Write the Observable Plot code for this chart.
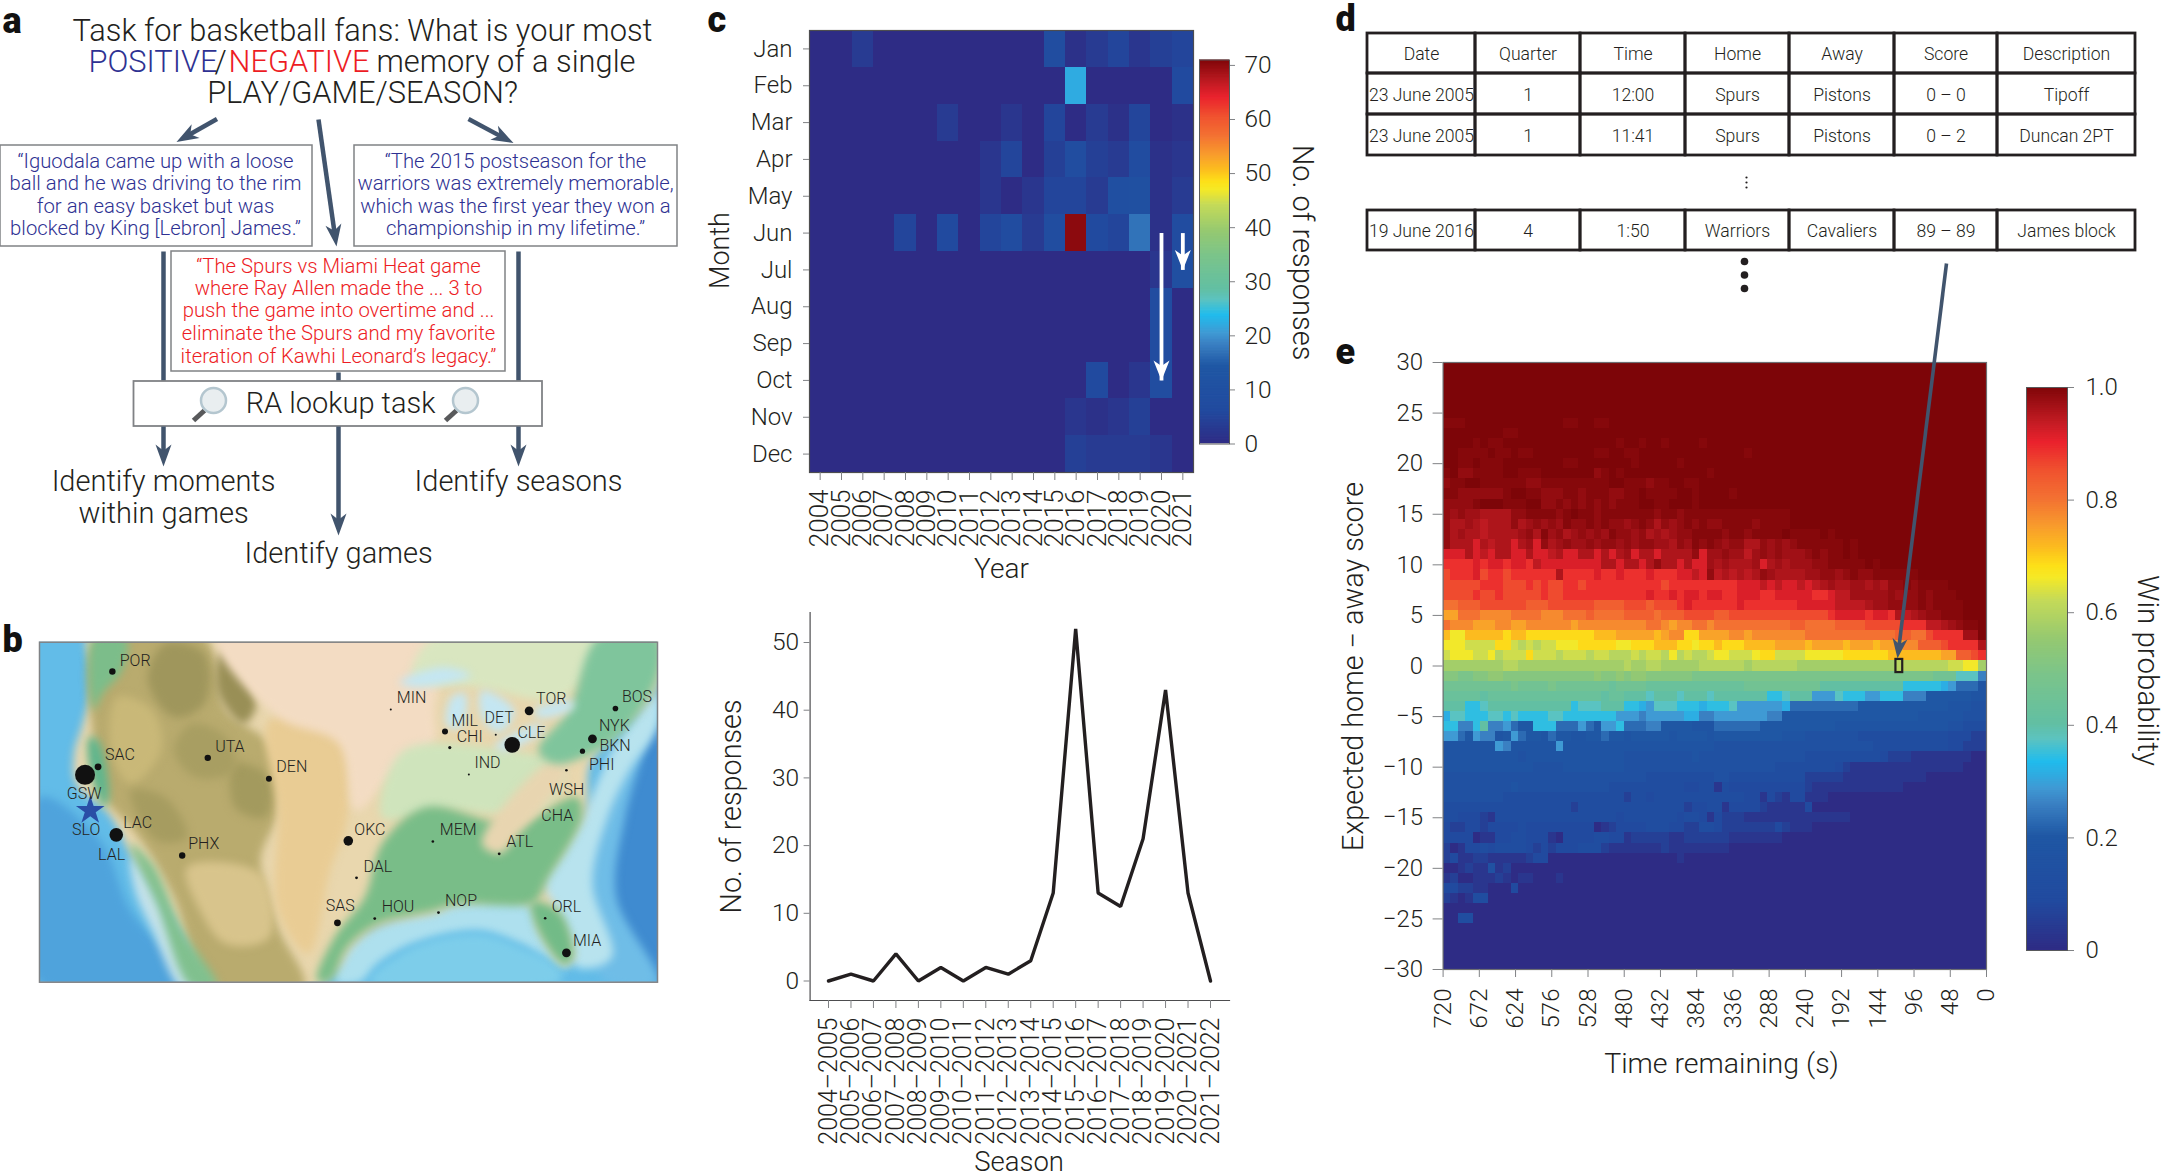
<!DOCTYPE html>
<html><head><meta charset="utf-8">
<script src="https://cdn.jsdelivr.net/npm/d3@7"></script>
<script src="https://cdn.jsdelivr.net/npm/@observablehq/plot@0.6"></script>
<style>
html,body{margin:0;padding:0;background:#fff}
#page{position:relative;width:2166px;height:1176px;overflow:hidden;background:#fff}
#page svg{position:absolute;max-width:none}
</style></head><body><div id="page"></div>
<script>
// ---------- colour ramp ----------
const rampStops  = [0,.085,.2,.26,.286,.333,.373,.4,.487,.553,.62,.66,.68,.713,.753,.8,.85,.9,.934,1];
const rampColors = ["#2e2c85","#214a9f","#1f57a4","#3b82c4","#3f9ad4","#20bced","#5cc3c0","#62bfa3","#7bc48a","#96c970","#c5da58","#f5e926","#fde018","#fcbc1f","#f89a2d","#f37132","#f0522f","#ea222d","#c51c24","#7d0508"];

// ---------- panel c, responses per month and year ----------
const months = ["Jan","Feb","Mar","Apr","May","Jun","Jul","Aug","Sep","Oct","Nov","Dec"];
const years  = [2004,2005,2006,2007,2008,2009,2010,2011,2012,2013,2014,2015,2016,2017,2018,2019,2020,2021];
const jan = [0,0,3,0,0,0,0,0,0,0,0,8,1,3,5,2,4,5];
const feb = [0,0,0,0,0,0,0,0,0,0,0,0,22,0,0,0,0,6];
const mar = [0,0,0,0,0,0,3,0,0,2,0,5,0,3,1,5,0,1];
const apr = [0,0,0,0,0,0,0,0,2,5,0,4,8,4,3,7,1,2];
const may = [0,0,0,0,0,0,0,0,2,0,2,5,5,3,9,10,1,3];
const jun = [0,0,0,0,5,0,6,0,5,7,3,8,70,6,5,17,1,7];
const jul = [0,0,0,0,0,0,0,0,0,0,0,0,0,0,0,0,2,9];
const aug = [0,0,0,0,0,0,0,0,0,0,0,0,0,0,0,0,7,0];
const sep = [0,0,0,0,0,0,0,0,0,0,0,0,0,0,0,0,7,0];
const oct = [0,0,0,0,0,0,0,0,0,0,0,0,0,6,0,2,8,0];
const nov = [0,0,0,0,0,0,0,0,0,0,0,0,2,1,2,4,0,0];
const dec = [0,0,0,0,0,0,0,0,0,0,0,0,4,3,3,3,2,0];
const monthCounts = [jan,feb,mar,apr,may,jun,jul,aug,sep,oct,nov,dec];
const barTicksC = [0,10,20,30,40,50,60,70];

// ---------- panel c, responses per season ----------
const seasons = ["2004–2005","2005–2006","2006–2007","2007–2008","2008–2009","2009–2010","2010–2011","2011–2012","2012–2013","2013–2014","2014–2015","2015–2016","2016–2017","2017–2018","2018–2019","2019–2020","2020–2021","2021–2022"];
const seasonCounts = [0,1,0,4,0,2,0,2,1,3,13,52,13,11,21,43,13,0];

// ---------- panel d ----------
const tableHeader = ["Date","Quarter","Time","Home","Away","Score","Description"];
const tableRow1 = ["23 June 2005","1","12:00","Spurs","Pistons","0 – 0","Tipoff"];
const tableRow2 = ["23 June 2005","1","11:41","Spurs","Pistons","0 – 2","Duncan 2PT"];
const tableRow3 = ["19 June 2016","4","1:50","Warriors","Cavaliers","89 – 89","James block"];

// ---------- panel e: win probability, one string per score difference from +30 to -30,
// one character per 10 s from 720 s to 0 s, read by eye from the colours ----------
const levelChars = "0123456789abcdefghijklmnopqrstuvwxyz";
const extraLevels = {A:.992,y:.98,B:.968,x:.955,C:.94};
const winRows = [
"z","z","z","z","z",
"z",
"AAAzzzzzzzzz zzzzAAzzAAzz z",
"zzzzzzzzAAzz z",
"zzzzAzAAzzzz zzzzzzzzzzzA zzAzzAzzzzAz z",
"zzAAAAzAAzAA zzzzzzzzAAzz AAzzzzzzzzzz zzzzAzzzzzzz z",
"zzAAzAAAzzzz zzzzAAzzzzzz zAzzzzzAzzzz z",
"AzyyAAAAzzAA AzzzzzzzyAzA zzzzzzzzzzzA z",
"yAAzzAAAAAAy yAAAAAAAAAzz AAAyAAzzAAzz z",
"AAyyyyyyAzzA AyyyAAyAAAyy AAzAAAAzzAzz zzAzzzzzzzzz z",
"yyyyAzzzAAAz zyyAyAyAyAyA AAzzAAzzzAzz z",
"yByBBxxxxyyA AAAyAzAAyAAA AAAAyAAyAAAA AAAAAAAAAAzz z",
"yxxBxCxxxyxB yByBAyyAyAyy ByAyxyByAyAy yAAAAyAAAAzz z",
"yxBxxCxxxxBy xAByxByByBAy yByxBxByyAAA AyAAyAAAAzAA AAzAzzzzzzzz z",
"yxxxwxCxxwxB wyxByBByByyB yByyBBxyBAyA yByyxxyByByA AAAAAzAzzzzz z",
"wwwxwCwxxwwx wwCxwwxxwxwx BwxxwxxxxywB ByBBCByByBBB yAyAAzAzzzzz z",
"vvvvwvwwvwwv Cwwwwwwwwxxw xxwxyxxwxwwB xBxxxBwxBxBB ByyAAAAAzAzz z",
"uvvvwuvvuvvv vvvxvvvvwvvw vvvwvvvwwCwy CxCxCxyBxxxx BByyByAyyAAA AAAzzzzzzzzz",
"uuuuuvvvuuuv uvuuvvuvvvvv vvvvvuvvvvvv vvvwwwCwCwwC wCxBxxBBxBxy yAyAAAAzzzzz",
"uuuuvuuvuuuu uvuuvvvvvvvv vvvwvvwvwwvw wvvwwwvvwwww wvvwCCBBBBBy ByyAyAAAzzzz",
"sstttuuuuuut ttuuuuuutttt uuutuuuvwvvv vvvwvvvvvvvw wwwwCCCCxBBy yyyAyAAAAzzz",
"qqsssrrrrsss srrrssstssss ttttstttuuuu ttuuuuuuuuuu uuuvwwwwvwwv xCxByyAAAzzz",
"srrrqqqrrqqr rrrrrqrrrrrr rrrssrqrrssr sssssssssstt ssssttttuuuu uvvvCCxByAAz",
"pnnpppppoppo oooooooopppq qqqqpqrrooqq qqrrqrrrrrrr ssssssssssss ttssuvvvvBBz",
"nnnmmmmoomlm lmmnnnooooon nooopppoonoo poooppppqqqq pqqqqpqqqpqq qrrtttuvvvvx",
"mnnnmmnlmmmo mmmlmmmlmmll lmlmmlnlmllm nnmmmnoommmm nnnnnoooooop ppppppqqttuv",
"kkkkkkkkllkk kkkkkkkkkkkk lkkllkkkkkll llllkllllllk kkkkkkkkkkkk lllllllmmnnk",
"iihhiijjiiii iiiiiiiijiij ijjiiiiiihhh hhhhhhhhhhhh hhhhhhhhhhhh hhhhhgggddd9",
"ggggggggghgg gghgggggggfg gggfffffffff ffffgggggggg ggeeeeeeeeee ecccccba8886",
"fffffeffffff fffffffffeff eeedeeedeeed eeeeeeeccdee eaaadcccaacc c99977777766",
"eeeccdeeeeee eeeeecdddeee ccbadddcccbc ccdaaaaaab88 888888877777 777777766655",
"bddcccddcdcc ccddccccccca aa9aaaaabb99 aaaaaaa99777 777777777777 777666666555",
"cc99ce99a877 ccc888a87aac 888997777666 888888777777 777766666666 666666655444",
"aa87a9967a87 768776677877 677777677776 777777777666 555555544444 444444433322",
"6666666a9666 666a66666666 666666666666 555555555555 555555555444 444444433222",
"666666666656 666666666666 555555555655 555555555555 444444444432 221111111100",
"666666666666 555566666666 555555555555 555555554444 444432111111 111111111000",
"555555555555 555555555555 555444444444 554444444444 222221111111 111100000000",
"555555555655 555555555544 444444443344 143333333333 211111111111 100000000000",
"555555554444 444444444444 244344444444 444433132133 111000000000 0",
"444444444444 444442444444 444444442334 413333211111 300000000000 0",
"443332144444 444444444443 444444434431 322211111111 111111000000 0",
"322332333343 333333330123 333444332244 322222223211 100000000000 0",
"333301133443 331033334433 122222112222 221111111000 0",
"201334344443 232333444211 111112111111 110000000000 0",
"231122111112 330000000000 000000010000 0",
"001211512000 0",
"120011121011 000100000000 0",
"332211000300 0",
"210144000000 0",
"0",
"004400000000 0",
"0","0","0","0","0"
];
const highlightCell = [{t1:120,t2:111,s1:-.65,s2:.65}];
const timeTicks  = [720,672,624,576,528,480,432,384,336,288,240,192,144,96,48,0];
const scoreTicks = [30,25,20,15,10,5,0,-5,-10,-15,-20,-25,-30];
const probTicks  = [0,.2,.4,.6,.8,1];

// ---------- panel b: teams, in units of the map picture ----------
const teamNames = ["POR","SAC","GSW","LAC","UTA","DEN","PHX","MIN","MIL","CHI","DET","TOR","CLE","IND","BOS","NYK","PHI","WSH","ATL","MEM","OKC","DAL","SAS","HOU","NOP","ORL","MIA"];
const teamX = [258,225,195,267,478,619,419,900,1025,1036,1142,1219,1180,1080,1418,1365,1342,1305,1150,997,802,821,777,863,1010,1256,1305];
const teamY = [183,469,493,673,442,505,735,297,363,411,373,301,403,492,294,385,422,479,730,693,691,802,937,924,906,923,1027];
const teamR = [3.2,3.4,10,6.8,3.2,3,3.2,1,3,1.6,1,4.4,7.8,1,2.8,4.4,2.6,1.3,1.4,1.3,4.8,1.4,3.4,1.4,1.4,1.3,4.4];
const labelNames = ["POR","SAC","GSW","SLO","LAC","LAL","UTA","DEN","PHX","MIN","MIL","CHI","DET","TOR","CLE","IND","BOS","NYK","BKN","PHI","WSH","CHA","ATL","MEM","OKC","DAL","SAS","HOU","NOP","ORL","MIA"];
const labelX = [275,241,153,165,283,225,495,636,433,914,1040,1052,1116,1235,1192,1093,1433,1380,1381,1357,1265,1247,1166,1013,816,837,750,879,1025,1271,1320];
const labelY = [150,432,551,658,638,732,408,470,700,263,330,378,321,265,368,458,260,347,406,462,538,616,695,658,657,768,885,890,872,889,992];
const studySite = [{x:207,y:600}];

// terrain shapes of the background map, in the same picture units
const terrain = [
 ["#4fa3dc",[[90,560],[230,690],[300,900],[430,1115],[90,1115]]],
 ["#3f8bd0",[[1515,340],[1410,500],[1375,700],[1400,900],[1515,1115]]],
 ["#6fbde7",[[1515,250],[1400,430],[1350,640],[1300,800],[1400,1115],[1515,1115],[1420,860],[1440,620]]],
 ["#b8e3ee",[[1515,250],[1420,400],[1345,600],[1255,760],[1250,880],[1330,1070],[1410,1040],[1365,820],[1400,620],[1450,480],[1515,350]]],
 ["#aee0ee",[[790,1020],[900,930],[1240,870],[1310,1075],[1200,1000],[1100,960],[950,1000],[870,1060],[830,1115],[770,1115]]],
 ["#7dcdea",[[850,1115],[950,1010],[1100,970],[1200,1010],[1290,1075],[1290,1115]]],
 ["#e9d7ae",[[205,70],[1515,70],[1515,230],[1420,370],[1360,460],[1350,600],[1300,720],[1255,820],[1285,900],[1322,1040],[1300,1064],[1240,960],[1220,885],[1050,885],[1010,905],[870,950],[810,1010],[780,1070],[720,1140],[480,1140],[430,1000],[360,860],[300,730],[250,610],[175,520],[170,430],[190,340],[215,200]]],
 ["#c5e2ea",[[300,740],[350,820],[400,940],[470,1140],[420,1140],[350,960],[310,840]]],
 ["#b9ab6e",[[225,80],[470,80],[520,300],[620,400],[640,600],[600,750],[640,950],[700,1130],[490,1130],[400,860],[340,720],[300,650],[240,560],[215,400]]],
 ["#9f965c",[[380,100],[470,130],[470,280],[400,320],[340,210]]],
 ["#a39a5e",[[540,460],[620,500],[610,620],[540,590]]],
 ["#a89e62",[[440,340],[520,380],[540,480],[450,500],[400,420]]],
 ["#c9b878",[[270,260],[350,300],[370,420],[300,520],[255,420]]],
 ["#a69c60",[[300,540],[380,560],[430,680],[360,690]]],
 ["#998f56",[[510,120],[590,280],[560,340],[500,240]]],
 ["#d8c48c",[[430,770],[600,790],[620,980],[520,1000],[460,900]]],
 ["#e9cc94",[[620,330],[780,340],[800,620],[760,780],[710,1030],[640,900],[640,600]]],
 ["#f3dcc3",[[500,80],[1010,80],[1000,300],[1000,400],[900,500],[820,600],[780,400],[640,320]]],
 ["#d9e6c0",[[1000,80],[1380,80],[1300,260],[1100,230],[950,200]]],
 ["#cfe4bc",[[930,420],[1170,420],[1300,470],[1250,600],[1020,600],[880,620]]],
 ["#79bd88",[[880,700],[980,590],[1180,640],[1330,560],[1340,620],[1260,810],[1230,875],[1050,880],[1000,900],[870,940],[800,1010],[760,1110],[730,1110],[770,980],[840,860]]],
 ["#72bb87",[[1225,875],[1290,905],[1320,1040],[1300,1062],[1240,960]]],
 ["#e8d5b0",[[1110,700],[1220,500],[1290,440],[1310,480],[1190,680],[1150,730]]],
 ["#7fc59c",[[1280,460],[1420,380],[1515,200],[1515,80],[1380,80],[1310,300],[1240,420]]],
 ["#5eb58c",[[205,380],[225,390],[250,560],[240,590],[205,470]]],
 ["#7cbd8a",[[215,80],[290,80],[280,180],[235,250],[215,300]]],
 ["#80c08e",[[300,700],[350,760],[420,960],[500,1130],[440,1130],[360,880]]],
 ["#c4e6f2",[[920,215],[1020,170],[1085,195],[960,230]]],
 ["#c4e6f2",[[1030,345],[1040,260],[1072,250],[1062,350]]],
 ["#c4e6f2",[[1110,240],[1185,300],[1150,365],[1110,320]]],
 ["#c4e6f2",[[1140,408],[1240,342],[1252,356],[1160,422]]],
 ["#c4e6f2",[[1230,300],[1320,272],[1322,292],[1242,322]]]
];

// ---------- panel a and axis texts ----------
const taskTitle = ["Task for basketball fans: What is your most","PLAY/GAME/SEASON?"];
const quoteIguodala = ["“Iguodala came up with a loose","ball and he was driving to the rim","for an easy basket but was","blocked by King [Lebron] James.”"];
const quoteWarriors = ["“The 2015 postseason for the","warriors was extremely memorable,","which was the first year they won a","championship in my lifetime.”"];
const quoteSpurs = ["“The Spurs vs Miami Heat game","where Ray Allen made the ... 3 to","push the game into overtime and ...","eliminate the Spurs and my favorite","iteration of Kawhi Leonard’s legacy.”"];

const INK="#231f20", ARROW="#41546d", BLUE="#2e3192", RED="#ed1c24", GREY="#808285";
const ROBOTO="Roboto, 'Noto Sans', sans-serif";
const page=document.getElementById("page");
function put(svg,left,top){svg.style.left=left+"px";svg.style.top=top+"px";page.appendChild(svg);}
const baseStyle={fontFamily:ROBOTO,fontWeight:300,color:INK,background:"transparent",overflow:"visible"};
const rampScale=m=>({type:"linear",domain:rampStops.map(s=>s*m),range:rampColors,interpolate:"rgb"});
const head={draw(c,l,r){c.moveTo(0,0);c.lineTo(-r,l);c.lineTo(0,l*.72);c.lineTo(r,l);c.closePath();}};

// ---- panel b map ----
put(Plot.plot({
 width:680,height:390,marginLeft:39,marginRight:23,marginTop:31.7,marginBottom:18.3,style:baseStyle,
 x:{domain:[90,1515],axis:null},y:{domain:[95,1115],range:[31.7,371.7],axis:null},r:{type:"identity"},
 marks:[
  Plot.rect([0],{x1:90,x2:1515,y1:95,y2:1115,fill:"#62bce8"}),
  ...terrain.map(([color,pts])=>Plot.line(pts,{x:d=>d[0],y:d=>d[1],fill:color,stroke:"none",curve:"catmull-rom-closed",clip:true,imageFilter:"blur(4.5px)"})),
  Plot.dot(teamNames.map((n,i)=>({x:teamX[i],y:teamY[i],r:teamR[i]})),{x:"x",y:"y",r:"r",fill:"#111",stroke:"none"}),
  Plot.dot(studySite,{x:"x",y:"y",r:9,symbol:"star",fill:"#2a4ea6",stroke:"none"}),
  Plot.text(labelNames.map((n,i)=>({n,x:labelX[i],y:labelY[i]})),{x:"x",y:"y",text:"n",textAnchor:"start",fontSize:16,fill:INK}),
  Plot.frame({stroke:GREY,strokeWidth:1.5})
 ]}),0,610);

// ---- panel c heat map ----
const heatCells=monthCounts.flatMap((r,i)=>r.map((v,j)=>({month:months[i],year:years[j],v})));
put(Plot.plot({
 width:520,height:590,marginLeft:119,marginRight:17,marginTop:30,marginBottom:118,style:baseStyle,
 x:{type:"band",domain:years,padding:0,round:false},y:{type:"band",domain:months,padding:0,round:false},
 color:rampScale(71),
 marks:[
  Plot.cell(heatCells,{x:"year",y:"month",fill:"v",shapeRendering:"crispEdges"}),
  Plot.frame({stroke:"#4d4d4f",strokeWidth:1.2}),
  Plot.axisX({tickRotate:-90,tickFormat:d=>String(d),tickSize:8,tickPadding:9,fontSize:26,label:null,stroke:GREY,fill:INK}),
  Plot.axisY({tickSize:6,tickPadding:11,fontSize:24,label:null,stroke:GREY,fill:INK}),
  Plot.link([{x:2020,y1:"Jun",y2:"Oct"},{x:2021,y1:"Jun",y2:"Jul"}],{x:"x",y1:"y1",y2:"y2",stroke:"#fff",strokeWidth:3.8}),
  Plot.vector([{x:2020,y:"Oct"},{x:2021,y:"Jul"}],{x:"x",y:"y",rotate:180,length:20,r:8,anchor:"start",shape:head,fill:"#fff",stroke:"none"})
 ]}),690,0);

// ---- panel c colour bar ----
const barSteps=d3.range(0,1,.004);
put(Plot.plot({
 width:120,height:410,marginLeft:9,marginRight:81,marginTop:9.5,marginBottom:16.5,style:baseStyle,
 x:{domain:[0,1],axis:null},y:{domain:[0,71]},color:rampScale(71),
 marks:[
  Plot.rect(barSteps,{x1:0,x2:1,y1:d=>d*71,y2:d=>(d+.006)*71,fill:d=>d*71,clip:true}),
  Plot.frame({stroke:"#58595b",strokeWidth:1}),
  Plot.axisY({anchor:"right",ticks:barTicksC,tickSize:5,tickPadding:10,fontSize:24.5,label:null,stroke:GREY,fill:INK})
 ]}),1190,50);

// ---- panel c line ----
put(Plot.plot({
 width:539,height:580,marginLeft:119.6,marginRight:0,marginTop:22,marginBottom:170,style:baseStyle,
 x:{type:"point",domain:seasons,range:[138,520],round:false,padding:0},y:{domain:[0,50],range:[390.5,52]},
 marks:[
  Plot.frame({anchor:"left",stroke:"#4d4d4f",strokeWidth:1.2}),
  Plot.frame({anchor:"bottom",stroke:"#4d4d4f",strokeWidth:1.2}),
  Plot.axisX({tickRotate:-90,tickSize:8,tickPadding:9,fontSize:25,label:null,stroke:GREY,fill:INK}),
  Plot.axisY({ticks:[0,10,20,30,40,50],tickSize:6,tickPadding:5,fontSize:24.5,label:null,stroke:GREY,fill:INK}),
  Plot.line(seasonCounts,{x:(d,i)=>seasons[i],y:d=>d,stroke:INK,strokeWidth:3.4,strokeLinejoin:"miter"})
 ]}),690,590);

// ---- panel e heat map ----
const winCells=[];
winRows.forEach((row,i)=>{
 const s=row.replace(/ /g,""), f=s.padEnd(72,s[s.length-1]);
 for(let c=0;c<72;c++){
  const ch=f[c], v=ch in extraLevels?extraLevels[ch]:levelChars.indexOf(ch)/35;
  winCells.push({t:720-10*c,s:30-i,v});
 }
});
put(Plot.plot({
 width:846,height:760,marginLeft:122.6,marginRight:180,marginTop:22,marginBottom:131,style:baseStyle,
 x:{domain:[720,0]},y:{domain:[-30,30]},color:rampScale(1),
 marks:[
  Plot.rect(winCells,{x1:"t",x2:d=>d.t-10,y1:d=>d.s-.5,y2:d=>d.s+.5,fill:"v",clip:true,shapeRendering:"crispEdges"}),
  Plot.rect(highlightCell,{x1:"t1",x2:"t2",y1:"s1",y2:"s2",fill:"none",stroke:INK,strokeWidth:2.2}),
  Plot.frame({stroke:"#6d6e71",strokeWidth:1.2}),
  Plot.axisX({ticks:timeTicks,tickRotate:-90,tickSize:8,tickPadding:11,fontSize:24,label:null,stroke:GREY,fill:INK}),
  Plot.axisY({ticks:scoreTicks,tickSize:10,tickPadding:10,fontSize:24,label:null,stroke:GREY,fill:INK})
 ]}),1320,340);

// ---- panel e colour bar ----
put(Plot.plot({
 width:110,height:590,marginLeft:6,marginRight:63,marginTop:12,marginBottom:15,style:baseStyle,
 x:{domain:[0,1],axis:null},y:{domain:[0,1]},color:rampScale(1),
 marks:[
  Plot.rect(barSteps,{x1:0,x2:1,y1:d=>d,y2:d=>d+.006,fill:d=>d,clip:true}),
  Plot.frame({stroke:"#58595b",strokeWidth:1}),
  Plot.axisY({anchor:"right",ticks:probTicks,tickFormat:d=>d===0?"0":d.toFixed(1),tickSize:6,tickPadding:12,fontSize:24,label:null,stroke:GREY,fill:INK})
 ]}),2020,375);

// ---- page overlay: panel a diagram, panel d table, axis titles, panel letters ----
const texts=[];
const addLines=(lines,x,ys,size,color)=>lines.forEach((t,i)=>texts.push({t,x,y:ys[i],size,color}));
addLines([taskTitle[0]],362,[31],30.8,INK);
addLines([taskTitle[1]],362,[93],30.8,INK);
addLines(quoteIguodala,155,[161,183,206,228],20.3,BLUE);
addLines(quoteWarriors,515,[161,183,206,228],20.3,BLUE);
addLines(quoteSpurs,338,[265.5,288,310,333,355.5],20.3,RED);
addLines(["RA lookup task"],340,[403],29,INK);
addLines(["Identify moments","within games"],163,[481,513],29,INK);
addLines(["Identify games"],338,[553.5],29,INK);
addLines(["Identify seasons"],518,[481],29,INK);
addLines(["Year"],1001,[569],28,INK);
addLines(["Season"],1018.6,[1162],27.5,INK);
addLines(["Time remaining (s)"],1721,[1063],28.5,INK);
const colEdges=[1367,1475,1580,1685,1789,1894,1997,2135];
const tableRows=[[tableHeader,33,73],[tableRow1,73,114],[tableRow2,114,155],[tableRow3,210,250]];
const tableCells=tableRows.flatMap(([row,y1,y2])=>row.map((t,i)=>({t,x1:colEdges[i],x2:colEdges[i+1],y1,y2})));
const line2=[["POSITIVE",88,BLUE],["/",214,INK],["NEGATIVE",228,RED],["memory of a single",376,INK]];
const rotated=[["Month",719.5,250,27,-90],["No. of responses",1302,252,29,90],["No. of responses",731,806,28.8,-90],["Expected home − away score",1353,666,28.8,-90],["Win probability",2147,670,29.5,90]];
const letters=[["a",2,21],["b",2,640],["c",707,20],["d",1335,19],["e",1335,352]];
const arrows=[
 [216.5,118.5,176,141.5,4.5],[318,119,336,246,4.5],[468,118.5,513,142.6,4.5],
 [163,426,163,466,4.5],[338,426,338,535,4.5],[518,426,518,466,4.5]
];
const stems=[[163,251,163,381],[518,251,518,381],[338,372,338,381]];
const longArrow=[[1946,263,1897,658]];
const boxes=[[0,145,312,246],[354,145,677,246],[171,251,505,371]];
const lookupBox=[[133.5,381,542,426]];
const lens=[{x:213,y:400},{x:465,y:400}];
const dotsSmall=[1746,177,1746,182,1746,187];
const dotsBig=[{x:1744,y:261},{x:1744,y:274.5},{x:1744,y:288}];
const shaft=a=>{const[x1,y1,x2,y2]=a,L=Math.hypot(x2-x1,y2-y1),k=(L-10)/L;return {x1,y1,x2:x1+(x2-x1)*k,y2:y1+(y2-y1)*k};};
const heads=list=>list.map(([x1,y1,x2,y2])=>({x:x2,y:y2,rotate:Math.atan2(x2-x1,-(y2-y1))*180/Math.PI}));

put(Plot.plot({
 width:2166,height:1176,margin:0,style:{...baseStyle,pointerEvents:"none"},
 x:{domain:[0,2166],range:[0,2166],axis:null},y:{domain:[0,1176],range:[0,1176],axis:null},
 marks:[
  Plot.link(stems,{x1:d=>d[0],y1:d=>d[1],x2:d=>d[2],y2:d=>d[3],stroke:ARROW,strokeWidth:4.5}),
  Plot.rect(boxes,{x1:d=>d[0],y1:d=>d[1],x2:d=>d[2],y2:d=>d[3],fill:"#fff",stroke:GREY,strokeWidth:1.5}),
  Plot.rect(lookupBox,{x1:d=>d[0],y1:d=>d[1],x2:d=>d[2],y2:d=>d[3],fill:"#fff",stroke:GREY,strokeWidth:1.8}),
  Plot.link(lens,{x1:d=>d.x-9,y1:d=>d.y+10,x2:d=>d.x-20,y2:d=>d.y+20,stroke:"#58595b",strokeWidth:5}),
  Plot.dot(lens,{x:"x",y:"y",r:12.5,fill:"#e9eef0",stroke:"#b4c6cf",strokeWidth:2.5}),
  Plot.link(arrows.map(shaft),{x1:"x1",y1:"y1",x2:"x2",y2:"y2",stroke:ARROW,strokeWidth:4.5}),
  Plot.vector(heads(arrows),{x:"x",y:"y",rotate:"rotate",length:22,r:8,anchor:"start",shape:head,fill:ARROW,stroke:"none"}),
  Plot.link(longArrow.map(shaft),{x1:"x1",y1:"y1",x2:"x2",y2:"y2",stroke:ARROW,strokeWidth:3.6}),
  Plot.vector(heads(longArrow),{x:"x",y:"y",rotate:"rotate",length:20,r:7.5,anchor:"start",shape:head,fill:ARROW,stroke:"none"}),
  Plot.rect(tableCells,{x1:"x1",x2:"x2",y1:"y1",y2:"y2",fill:"none",stroke:INK,strokeWidth:2.8}),
  Plot.text(tableCells,{x:d=>(d.x1+d.x2)/2,y:d=>(d.y1+d.y2)/2+1,text:"t",fontSize:17.6,fill:INK}),
  Plot.dot(d3.range(0,dotsSmall.length,2),{x:i=>dotsSmall[i],y:i=>dotsSmall[i+1],r:1.1,fill:INK,stroke:"none"}),
  Plot.dot(dotsBig,{x:"x",y:"y",r:3.8,fill:INK,stroke:"none"}),
  Plot.text(texts,{x:"x",y:"y",text:"t",fontSize:"size",fill:d=>d.color}),
  Plot.text(line2,{x:d=>d[1],y:62,text:d=>d[0],fontSize:30.8,fill:d=>d[2],textAnchor:"start"}),
  Plot.text(rotated,{x:d=>d[1],y:d=>d[2],text:d=>d[0],fontSize:d=>d[3],rotate:d=>d[4],fill:INK}),
  Plot.text(letters,{x:d=>d[1],y:d=>d[2],text:d=>d[0],fontSize:36,fontWeight:900,textAnchor:"start",fill:"#111"})
 ]}),0,0);
</script></body></html>
